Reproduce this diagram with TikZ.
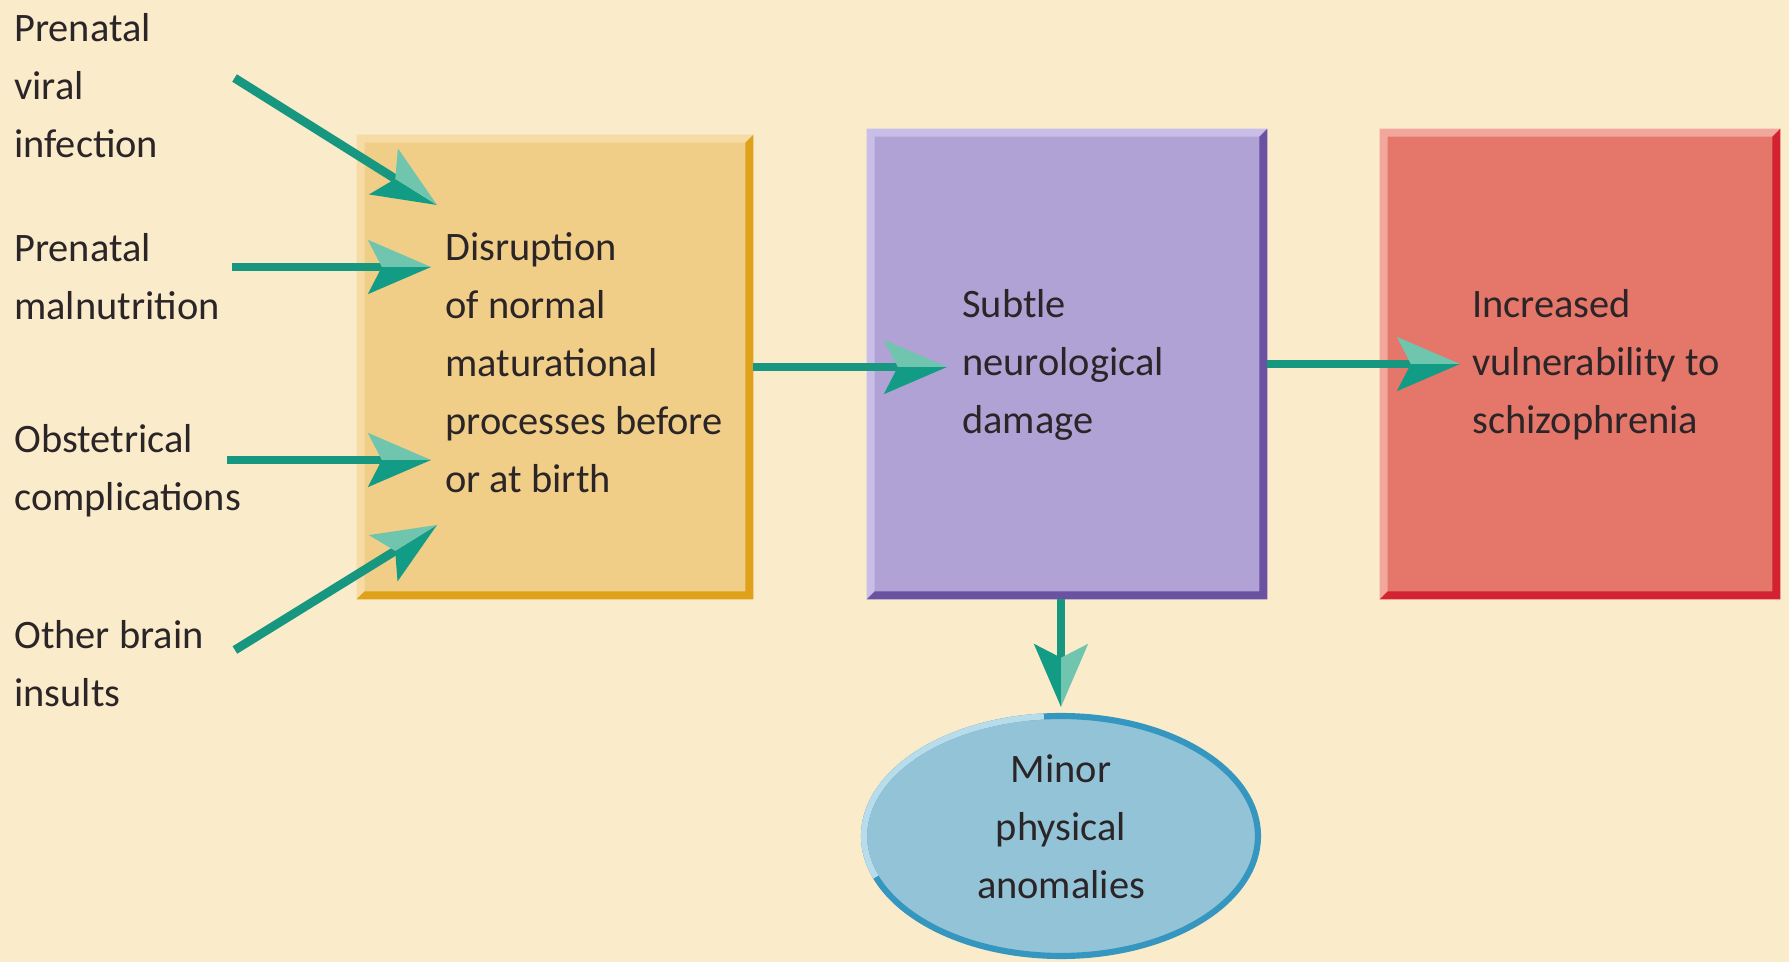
\documentclass[tikz,border=0pt]{standalone}
\usepackage{fontspec}
\setmainfont{Carlito}
\usetikzlibrary{
  positioning,
  arrows.meta,
  calc,
  shapes.geometric
}
\definecolor{paper}{HTML}{FAEBCB}
\definecolor{ink}{HTML}{2B2527}
\definecolor{ochre}{HTML}{F0CE87}
\definecolor{ochrelt}{HTML}{F6DCA4}
\definecolor{ochredk}{HTML}{E0A11A}
\definecolor{lilac}{HTML}{B0A2D5}
\definecolor{lilaclt}{HTML}{C9BEE8}
\definecolor{lilacdk}{HTML}{6A51A2}
\definecolor{coral}{HTML}{E4766A}
\definecolor{corallt}{HTML}{F2A79C}
\definecolor{coraldk}{HTML}{D42232}
\definecolor{sky}{HTML}{93C3D7}
\definecolor{skylt}{HTML}{B9DCEB}
\definecolor{skydk}{HTML}{3597BF}
\definecolor{teal}{HTML}{17977F}
\definecolor{tealdk}{HTML}{139C85}
\definecolor{teallt}{HTML}{6FC5AE}
\newcommand{\labfont}{\fontsize{23}{33}\selectfont}
% bevelled edges: node, light colour, dark colour, edge width
\newcommand{\bevel}[4]{%
  \fill[#2] (#1.south west) -- (#1.north west) -- (#1.north east)
    -- ([shift={(-#4,#4)}]#1.north east) -- ([shift={(#4,#4)}]#1.north west)
    -- ([shift={(#4,-#4)}]#1.south west) -- cycle;
  \fill[#3] (#1.south west) -- (#1.south east) -- (#1.north east)
    -- ([shift={(-#4,#4)}]#1.north east) -- ([shift={(-#4,-#4)}]#1.south east)
    -- ([shift={(#4,-#4)}]#1.south west) -- cycle;
}

\begin{document}
\begin{tikzpicture}[
  x=0.02cm, y=-0.02cm,
  lab/.style={font=\labfont, text=ink, align=left, inner sep=0pt},
  box/.style={rectangle, inner sep=0pt, minimum width=8cm, minimum height=9.4cm},
  arr/.style={line width=5pt, teal,
    -{Stealth[length=36pt, width=31pt, inset=8pt, line width=0pt, right, fill=tealdk, color=tealdk, sep=-36pt]
      Stealth[length=36pt, width=31pt, inset=8pt, line width=0pt, left, fill=teallt, color=teallt]}},
]
  \useasboundingbox (0,0) rectangle (1789,962);
  \fill[paper] (0,0) rectangle (1789,962);

  % the three stages
  \node[box, fill=ochre, minimum width=7.92cm, minimum height=9.28cm] (disrupt) at (555,367) {};
  \node[box, fill=lilac] (damage) at (1067,364) {};
  \node[box, fill=coral] (vulner) at (1580,364) {};
  \bevel{disrupt}{ochrelt}{ochredk}{8}
  \bevel{damage}{lilaclt}{lilacdk}{8}
  \bevel{vulner}{corallt}{coraldk}{8}

  \node[lab, anchor=west] (disruptlab) at (445,363)
    {Disruption\\of normal\\maturational\\processes before\\or at birth};
  \node[lab, anchor=west] (damagelab) at (962,365) {Subtle\\neurological\\damage};
  \node[lab, anchor=west] (vulnerlab) at (1472,365) {Increased\\vulnerability to\\schizophrenia};

  % outcome
  \node[ellipse, fill=sky, draw=skydk, line width=3.5pt, minimum width=7.88cm,
        minimum height=4.8cm, inner sep=0pt] (anomal) at (1061,836) {};
  \draw[skylt, line width=3.5pt] ([shift={(160:197 and 120)}]anomal.center)
    arc[start angle=160, end angle=265, x radius=197, y radius=120];
  \node[lab, align=center] (anomallab) at (1061,827) {Minor\\physical\\anomalies};

  % causes on the left
  \node[lab, anchor=west] (viral) at (14,86) {Prenatal\\viral\\infection};
  \node[lab, anchor=west] (malnu) at (14,277) {Prenatal\\malnutrition};
  \node[lab, anchor=west] (obstet) at (14,471) {Obstetrical\\complications};
  \node[lab, anchor=west] (insult) at (14,664) {Other brain\\insults};

  \draw[arr] ([shift={(76,-8)}]viral.east) -- ([shift={(-8,-158)}]disruptlab.west);
  \draw[arr] ([shift={(12,-10)}]malnu.east) -- ([shift={(-14,-96)}]disruptlab.west);
  \draw[arr] ([shift={(-14,-11)}]obstet.east) -- ([shift={(-14,97)}]disruptlab.west);
  \draw[arr] ([shift={(31,-14)}]insult.east) -- ([shift={(-8,162)}]disruptlab.west);

  \draw[arr] (disrupt.east) -- ($(disrupt.east -| damagelab.west)+(-15,0)$);
  \draw[arr] (damage.east) -- ($(damage.east -| vulnerlab.west)+(-12,0)$);
  \draw[arr] (damage.south -| anomal.north) -- ([shift={(0,-6)}]anomal.north);
\end{tikzpicture}
\end{document}
